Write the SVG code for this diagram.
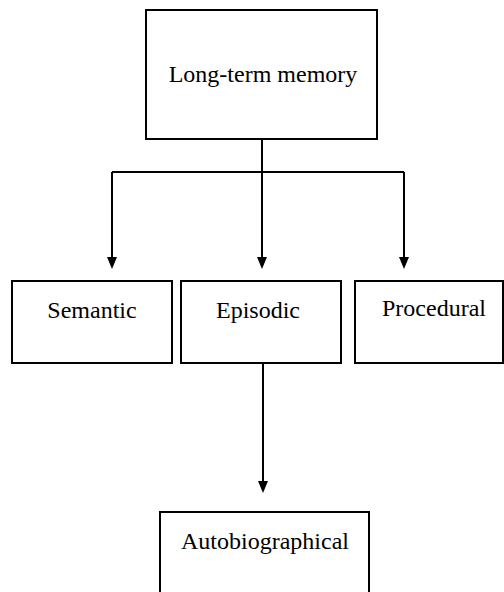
<svg xmlns="http://www.w3.org/2000/svg" width="504" height="592" viewBox="0 0 504 592">
  <style>
    .box { fill: #ffffff; stroke: #000000; stroke-width: 2; }
    .label { font-size: 24px; fill: #000000; }
    .link { fill: none; stroke: #000000; stroke-width: 2; }
    .head { fill: #000000; }
  </style>
  <rect width="504" height="592" fill="#ffffff"/>

  <g id="connectors">
    <path class="link" d="M262,140 V257"/>
    <path class="link" d="M112,172 H404"/>
    <path class="link" d="M112,172 V257"/>
    <path class="link" d="M404,172 V257"/>
    <path class="link" d="M263,363 V481"/>
    <path class="head" d="M107,257 L117,257 L112,269 Z"/>
    <path class="head" d="M257,257 L267,257 L262,269 Z"/>
    <path class="head" d="M399,257 L409,257 L404,269 Z"/>
    <path class="head" d="M258,481 L268,481 L263,493 Z"/>
  </g>

  <g font-family="Liberation Serif, Times New Roman, DejaVu Serif, serif">
    <g id="long-term-memory">
      <rect class="box" x="146" y="10" width="231" height="129"/>
      <text class="label" x="263" y="82" text-anchor="middle">Long-term memory</text>
    </g>
    <g id="semantic">
      <rect class="box" x="12" y="281" width="160" height="82"/>
      <text class="label" x="92" y="318" text-anchor="middle">Semantic</text>
    </g>
    <g id="episodic">
      <rect class="box" x="181" y="281" width="160" height="82"/>
      <text class="label" x="258" y="318" text-anchor="middle">Episodic</text>
    </g>
    <g id="procedural">
      <rect class="box" x="355" y="281" width="148" height="82"/>
      <text class="label" x="434" y="316" text-anchor="middle">Procedural</text>
    </g>
    <g id="autobiographical">
      <rect class="box" x="160" y="512" width="209" height="90"/>
      <text class="label" x="265" y="549" text-anchor="middle">Autobiographical</text>
    </g>
  </g>
</svg>
